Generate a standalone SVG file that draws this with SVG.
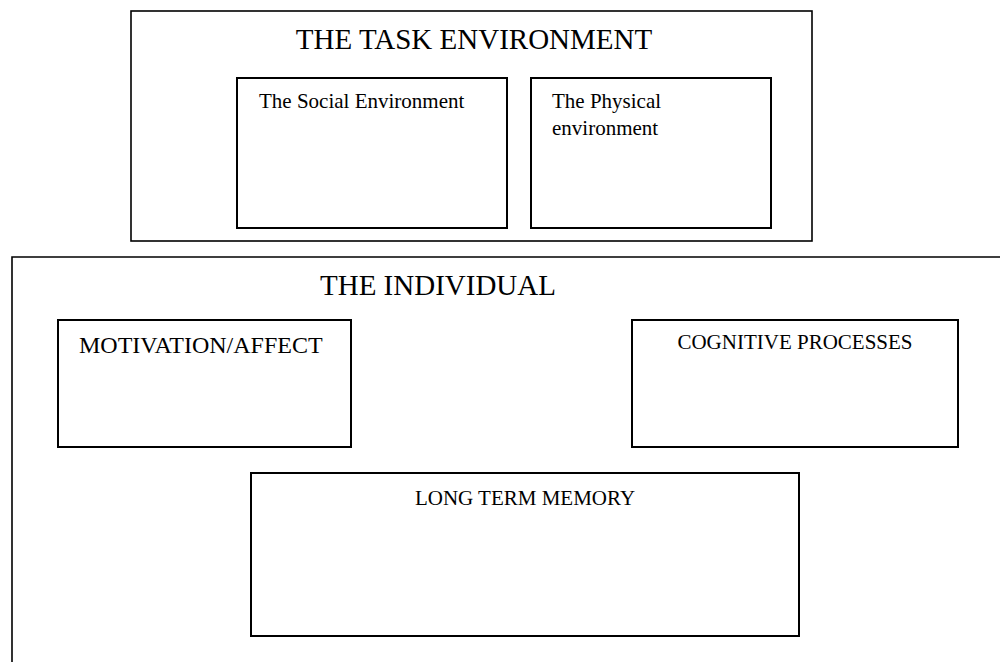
<svg xmlns="http://www.w3.org/2000/svg" width="1000" height="662" viewBox="0 0 1000 662">
<style>
.box{fill:none;stroke:#000;stroke-width:2}
.outer{fill:none;stroke:#000;stroke-width:1.6}
text{font-family:"Liberation Serif","Times New Roman",serif;fill:#000}
.title{font-size:29px}
.lbl{font-size:21px}
.mid{text-anchor:middle}
</style>
<rect width="1000" height="662" fill="#fff"/>
<g id="task-environment">
<rect class="outer" x="131" y="11" width="681" height="230"/>
<text class="title mid" x="474" y="49">THE TASK ENVIRONMENT</text>
</g>
<g id="social-environment">
<rect class="box" x="237" y="78" width="270" height="150"/>
<text class="lbl" x="259" y="108">The Social Environment</text>
</g>
<g id="physical-environment">
<rect class="box" x="531" y="78" width="240" height="150"/>
<text class="lbl" x="552" y="108">The Physical</text>
<text class="lbl" x="552" y="135">environment</text>
</g>
<g id="individual">
<path class="outer" d="M12,662 V257 H1001"/>
<text class="title" x="320" y="295">THE INDIVIDUAL</text>
</g>
<g id="motivation-affect">
<rect class="box" x="58" y="320" width="293" height="127"/>
<text class="lbl" x="79" y="353" style="font-size:24px">MOTIVATION/AFFECT</text>
</g>
<g id="cognitive-processes">
<rect class="box" x="632" y="320" width="326" height="127"/>
<text class="lbl mid" x="795" y="349">COGNITIVE PROCESSES</text>
</g>
<g id="long-term-memory">
<rect class="box" x="251" y="473" width="548" height="163"/>
<text class="lbl mid" x="525" y="505">LONG TERM MEMORY</text>
</g>
<g id="connectors"></g>
</svg>
